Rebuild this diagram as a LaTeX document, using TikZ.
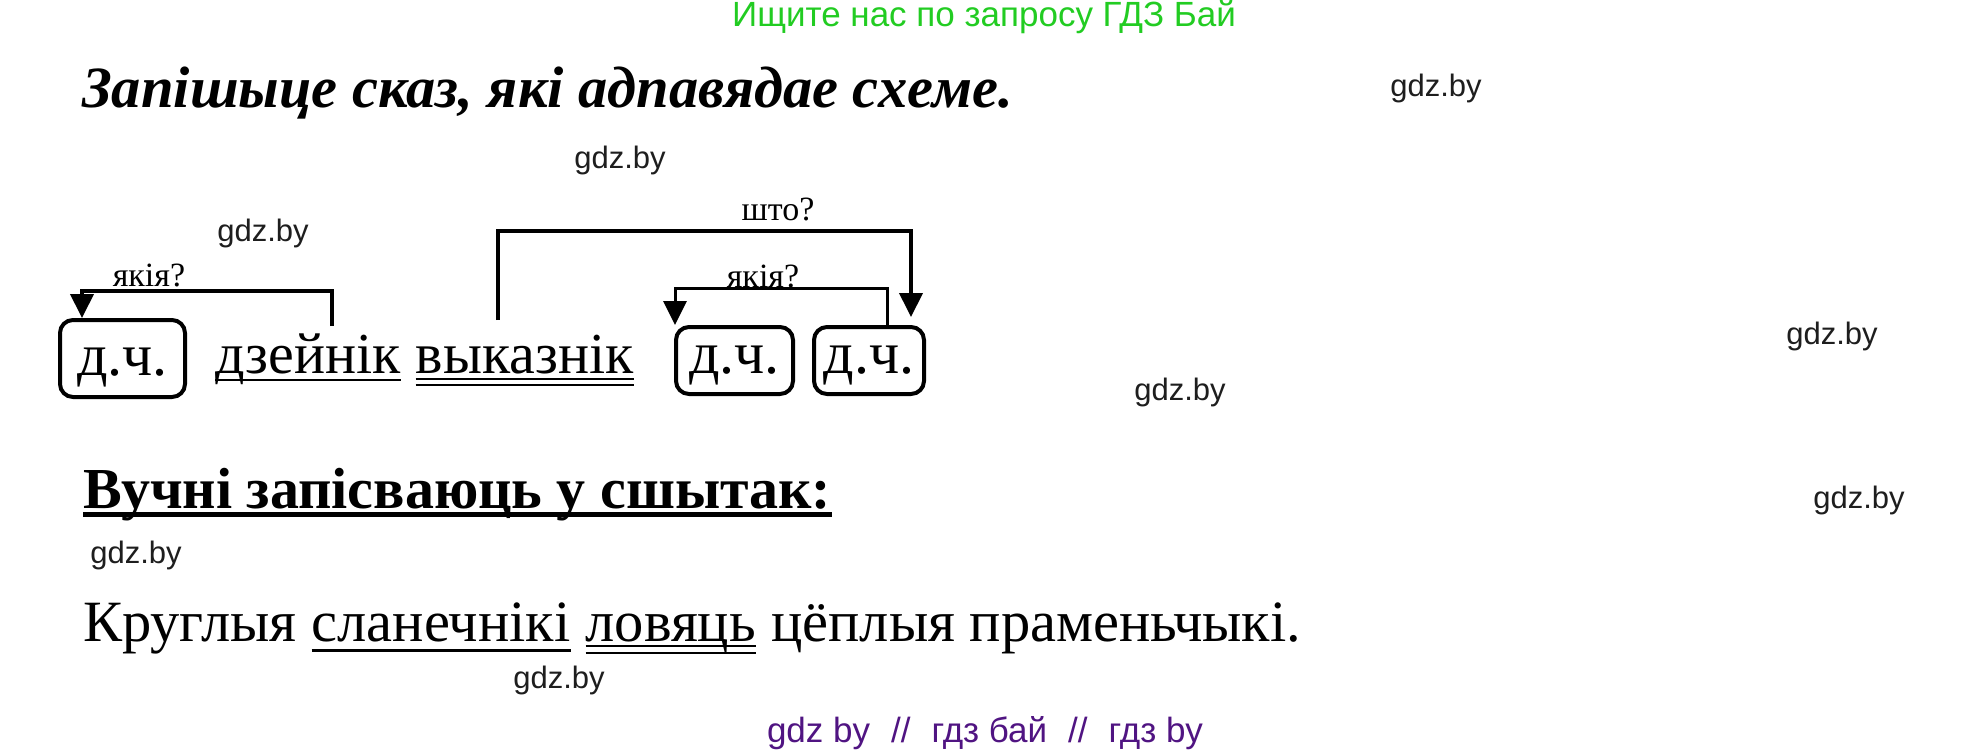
\documentclass[tikz,border=0pt]{standalone}
\usepackage{fontspec}
\setmainfont{Liberation Serif}
\newfontfamily\wmfont{Liberation Sans}
\usetikzlibrary{arrows.meta,calc}
\newcommand\fsz[1]{\fontsize{#1}{#1}\selectfont}
\definecolor{hdrgreen}{RGB}{34,204,34}
\definecolor{ftpurple}{RGB}{80,20,130}
\definecolor{wmgray}{RGB}{30,30,30}
\begin{document}
\begin{tikzpicture}[x=1pt,y=-1pt,
  txt/.style={inner sep=0pt, anchor=base west},
  wm/.style={inner sep=0pt, anchor=center, font=\wmfont\fsz{31}, text=wmgray},
  dc/.style={draw, line width=4pt, rounded corners=13pt, inner sep=0pt, font=\fsz{60}},
  arr/.style={line width=4pt, -{Triangle[length=24pt,width=23pt]}},
  lbl/.style={inner sep=0pt, anchor=base, font=\fsz{34}},
  word/.style={txt, font=\fsz{58}},
  sent/.style={txt, font=\fsz{58.5}}]
\useasboundingbox (0,0) rectangle (1972,752);
\fill[white] (0,0) rectangle (1972,752);

% header and footer
\node[wm, text=hdrgreen, font=\wmfont\fsz{35}] (hdr) at (984,17) {Ищите нас по запросу ГДЗ Бай};
\node[wm, text=ftpurple, font=\wmfont\fsz{35}] (ft) at (985,733) {gdz by\hspace{0.6em}//\hspace{0.6em}гдз бай\hspace{0.6em}//\hspace{0.6em}гдз by};

% title
\node[txt, font=\bfseries\itshape\fsz{58.5}] (title) at (82,107) {Запішыце сказ, які адпавядае схеме.};

% scheme
\node[dc, minimum width=125pt, minimum height=77pt, text height=40pt, text depth=7pt] (b1) at (122.5,358.5) {д.ч.};
\node[word] (dz) at (215,373) {дзейнік};
\node[word] (vk) at ([xshift=15pt]dz.base east) {выказнік};
\node[dc, minimum width=117pt, minimum height=67pt, text height=35pt, text depth=10pt] (b2) at (734.5,360.5) {д.ч.};
\node[dc, minimum width=110pt, minimum height=67pt, text height=35pt, text depth=10pt] (b3) at (869,360.5) {д.ч.};

\draw[line width=2.5pt] ([yshift=-7pt]dz.base west) -- ([yshift=-7pt]dz.base east);
\draw[line width=2pt] ([yshift=-6pt]vk.base west) -- ([yshift=-6pt]vk.base east);
\draw[line width=2pt] ([yshift=-12pt]vk.base west) -- ([yshift=-12pt]vk.base east);

\node[lbl] (q1) at (149,286) {якія?};
\node[lbl] (q2) at (778,220) {што?};
\node[lbl] (q3) at (763,287) {якія?};

\draw[arr] ([xshift=24.5pt,yshift=47pt]dz.base) -- ++(0,-35) -| ([xshift=-40.5pt]b1.north);
\draw[arr] ([xshift=-27pt,yshift=53pt]vk.base) -- ++(0,-89) -| ([xshift=42pt,yshift=8pt]b3.north);
\draw[arr, line width=3pt] ([xshift=18pt]b3.north) -- ++(0,-37) -| ([xshift=-59.5pt]b2.north);

% heading
\node[txt, font=\bfseries\fsz{58}] (hd) at (83,508) {Вучні запісваюць у сшытак:};
\draw[line width=5pt] ([yshift=-6pt]hd.base west) -- ([yshift=-6pt]hd.base east);

% sentence
\node[sent] (w1) at (83,641) {Круглыя};
\node[sent] (w2) at ([xshift=15pt]w1.base east) {сланечнікі};
\node[sent] (w3) at ([xshift=15pt]w2.base east) {ловяць};
\node[sent] (w4) at ([xshift=15pt]w3.base east) {цёплыя праменьчыкі.};
\draw[line width=3pt] ([yshift=-9pt]w2.base west) -- ([yshift=-9pt]w2.base east);
\draw[line width=2pt] ([yshift=-5pt]w3.base west) -- ([yshift=-5pt]w3.base east);
\draw[line width=2pt] ([yshift=-12pt]w3.base west) -- ([yshift=-12pt]w3.base east);

% watermarks
\node[wm] (g1) at (1436,88) {gdz.by};
\node[wm] (g2) at (620,160) {gdz.by};
\node[wm] (g3) at (263,233) {gdz.by};
\node[wm] (g4) at (1832,336) {gdz.by};
\node[wm] (g5) at (1180,392) {gdz.by};
\node[wm] (g6) at (1859,500) {gdz.by};
\node[wm] (g7) at (136,555) {gdz.by};
\node[wm] (g8) at (559,680) {gdz.by};
\end{tikzpicture}
\end{document}
